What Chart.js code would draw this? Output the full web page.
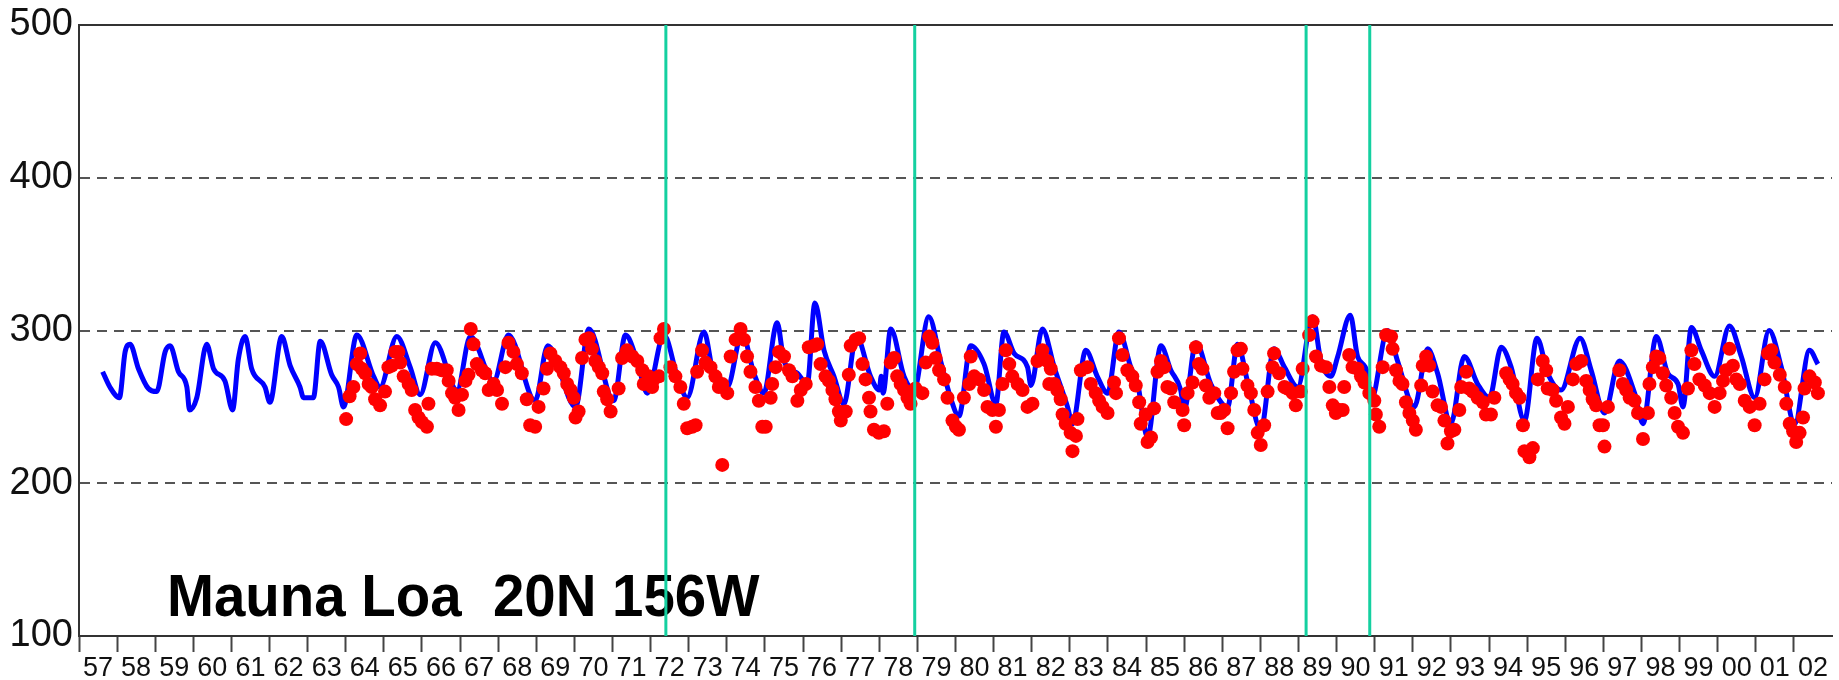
<!DOCTYPE html>
<html>
<head>
<meta charset="utf-8">
<title>Mauna Loa ozone</title>
<script src="https://cdn.jsdelivr.net/npm/chart.js@4.4.1/dist/chart.umd.min.js"></script>
<style>
  html, body { margin: 0; padding: 0; background: #fff; }
</style>
</head>
<body>
<canvas id="ozone-chart" width="1839" height="680"></canvas>
<script>

// x axis labels, one per year bin (1957 .. 2002)
const yearLabels = ['57', '58', '59', '60', '61', '62', '63', '64', '65', '66', '67', '68', '69', '70', '71', '72',
  '73', '74', '75', '76', '77', '78', '79', '80', '81', '82', '83', '84', '85', '86', '87', '88', '89', '90', '91',
  '92', '93', '94', '95', '96', '97', '98', '99', '00', '01', '02'];

// blue curve (decimal year, value)
const blueYears = [1957.62, 1957.81, 1958.06, 1958.21, 1958.34, 1958.56, 1958.82, 1959.04, 1959.26, 1959.39, 1959.61,
  1959.83, 1959.90, 1960.09, 1960.35, 1960.53, 1960.83, 1961.03, 1961.18, 1961.36, 1961.53, 1961.88, 1962.01, 1962.32,
  1962.54, 1962.80, 1962.89, 1963.15, 1963.33, 1963.63, 1963.81, 1963.94, 1964.29, 1964.73, 1964.90, 1965.34, 1965.69,
  1965.95, 1966.35, 1966.92, 1967.27, 1967.88, 1968.27, 1968.97, 1969.30, 1970.03, 1970.38, 1971.03, 1971.34, 1971.65,
  1971.91, 1972.35, 1972.70, 1972.96, 1973.40, 1973.66, 1974.01, 1974.40, 1974.71, 1974.97, 1975.32, 1975.50, 1975.85,
  1976.11, 1976.31, 1976.55, 1976.81, 1977.07, 1977.40, 1977.77, 1978.00, 1978.05, 1978.10, 1978.30, 1978.65, 1978.91,
  1979.30, 1979.61, 1979.87, 1980.09, 1980.40, 1980.75, 1981.06, 1981.27, 1981.54, 1981.89, 1981.98, 1982.28, 1982.59,
  1982.94, 1983.07, 1983.42, 1983.72, 1983.99, 1984.29, 1984.60, 1984.78, 1985.04, 1985.39, 1985.65, 1985.91, 1986.00,
  1986.31, 1986.70, 1987.14, 1987.40, 1987.66, 1988.01, 1988.36, 1988.63, 1988.98, 1989.37, 1989.59, 1989.85, 1990.03,
  1990.36, 1990.55, 1990.81, 1990.90, 1991.34, 1991.60, 1992.04, 1992.39, 1992.65, 1993.00, 1993.35, 1993.70, 1994.01,
  1994.32, 1994.58, 1994.93, 1995.26, 1995.54, 1995.89, 1996.39, 1996.68, 1997.03, 1997.42, 1997.82, 1998.04, 1998.39,
  1998.69, 1998.96, 1999.09, 1999.31, 1999.57, 1999.92, 2000.31, 2000.62, 2000.97, 2001.35, 2001.67, 2002.02, 2002.41,
  2002.63];
const blueValues = [273, 263, 256, 286, 291, 275, 262, 260, 286, 290, 273,
  263, 248, 256, 291, 275, 267, 248, 281, 296, 275, 263, 253, 296,
  277, 263, 256, 256, 293, 271, 263, 250, 297, 270, 263, 296, 276,
  258, 292, 261, 296, 267, 297, 254, 290, 250, 301, 254, 297, 280,
  259, 297, 270, 256, 299, 270, 263, 298, 272, 259, 305, 280, 272,
  265, 318, 287, 270, 252, 296, 270, 261, 270, 259, 301, 270, 261,
  309, 280, 256, 244, 290, 278, 252, 299, 285, 276, 264, 301, 276,
  250, 239, 287, 270, 259, 299, 276, 265, 230, 290, 274, 261, 248,
  292, 265, 250, 291, 267, 235, 288, 276, 263, 309, 280, 270, 283,
  310, 283, 272, 254, 300, 280, 250, 288, 272, 239, 283, 265, 256,
  289, 276, 241, 295, 272, 261, 295, 274, 246, 280, 259, 239, 296,
  272, 265, 250, 302, 287, 270, 303, 283, 256, 300, 276, 239, 287,
  278];

// red observations (decimal year, value)
const redYears = [1964.01, 1964.10, 1964.20, 1964.29, 1964.38, 1964.42, 1964.51, 1964.60, 1964.68, 1964.77, 1964.90,
  1965.03, 1965.12, 1965.21, 1965.30, 1965.38, 1965.43, 1965.52, 1965.65, 1965.73, 1965.82, 1965.91, 1966.00, 1966.13,
  1966.17, 1966.26, 1966.39, 1966.52, 1966.65, 1966.70, 1966.79, 1966.87, 1966.96, 1967.05, 1967.14, 1967.22, 1967.28,
  1967.35, 1967.44, 1967.57, 1967.66, 1967.75, 1967.88, 1967.97, 1968.10, 1968.19, 1968.27, 1968.40, 1968.49, 1968.62,
  1968.75, 1968.84, 1968.97, 1969.06, 1969.19, 1969.28,
  1969.37, 1969.50, 1969.63, 1969.72, 1969.81, 1969.90, 1969.98, 1970.03, 1970.11, 1970.20, 1970.29, 1970.38, 1970.46,
  1970.55, 1970.64, 1970.73, 1970.77, 1970.86, 1970.95, 1971.16, 1971.25, 1971.38, 1971.52, 1971.65, 1971.78, 1971.82,
  1971.95, 1972.04, 1972.08, 1972.22, 1972.26, 1972.35, 1972.52, 1972.65, 1972.78, 1972.87, 1972.96, 1973.09, 1973.18,
  1973.22, 1973.35, 1973.44, 1973.57, 1973.70, 1973.79, 1973.88, 1973.88, 1974.01, 1974.10, 1974.23, 1974.36, 1974.45,
  1974.53, 1974.62, 1974.75, 1974.84, 1974.93, 1975.02, 1975.15, 1975.19, 1975.28, 1975.37, 1975.50, 1975.63, 1975.72,
  1975.85, 1975.94, 1976.07, 1976.15, 1976.29, 1976.37, 1976.46, 1976.59, 1976.68, 1976.77, 1976.85, 1976.94, 1976.99,
  1977.12, 1977.20, 1977.25, 1977.38, 1977.47, 1977.56, 1977.64, 1977.73, 1977.77, 1977.86, 1977.99, 1978.12, 1978.21,
  1978.30, 1978.39, 1978.47, 1978.56, 1978.65, 1978.74, 1978.82, 1978.95, 1979.13, 1979.22, 1979.31, 1979.39, 1979.48,
  1979.57, 1979.70, 1979.79, 1979.92, 1980.01, 1980.09, 1980.22, 1980.36, 1980.40, 1980.49, 1980.62, 1980.75, 1980.84,
  1980.97, 1981.06, 1981.14, 1981.23, 1981.32, 1981.41, 1981.49, 1981.63, 1981.76, 1981.89, 1982.02, 1982.15, 1982.28,
  1982.41, 1982.46,
  1982.50, 1982.59, 1982.67, 1982.76, 1982.81, 1982.89, 1983.02, 1983.07, 1983.16, 1983.20, 1983.29, 1983.46, 1983.55,
  1983.68, 1983.77, 1983.86, 1983.99, 1984.16, 1984.21, 1984.29, 1984.38, 1984.51, 1984.64, 1984.73, 1984.82, 1984.86,
  1984.99, 1985.04, 1985.13, 1985.21, 1985.30, 1985.39, 1985.48, 1985.56, 1985.65, 1985.74, 1985.96, 1986.00, 1986.09,
  1986.22, 1986.31, 1986.39, 1986.48, 1986.57, 1986.66, 1986.79, 1986.88, 1986.96, 1987.05, 1987.14, 1987.23, 1987.31,
  1987.40, 1987.49, 1987.53, 1987.66, 1987.75, 1987.84, 1987.93, 1988.01, 1988.10, 1988.19, 1988.32, 1988.36, 1988.49,
  1988.63, 1988.71, 1988.85, 1988.93, 1989.06, 1989.11, 1989.28, 1989.37, 1989.46, 1989.59, 1989.72, 1989.81, 1989.90,
  1989.98, 1990.07, 1990.16, 1990.20, 1990.33, 1990.42, 1990.55, 1990.64, 1990.73, 1990.86, 1990.99, 1991.03, 1991.12,
  1991.21, 1991.30, 1991.43, 1991.47, 1991.56, 1991.65, 1991.73, 1991.82, 1991.91, 1992.00, 1992.08, 1992.22, 1992.26,
  1992.35, 1992.43, 1992.52, 1992.65, 1992.74, 1992.83, 1992.91,
  1993.00, 1993.09, 1993.22, 1993.27, 1993.40, 1993.48, 1993.57, 1993.70, 1993.84, 1993.92, 1994.05, 1994.14, 1994.45,
  1994.54, 1994.62, 1994.71, 1994.80, 1994.89, 1994.93, 1995.06, 1995.15, 1995.28, 1995.41, 1995.50, 1995.54, 1995.67,
  1995.76, 1995.89, 1995.98, 1996.07, 1996.20, 1996.29, 1996.42, 1996.55, 1996.64, 1996.72, 1996.81, 1996.90, 1996.99,
  1997.03, 1997.12, 1997.42, 1997.51, 1997.60, 1997.69, 1997.82, 1997.91, 1998.04, 1998.17, 1998.21, 1998.30, 1998.39,
  1998.47, 1998.56, 1998.65, 1998.78, 1998.87, 1998.96, 1999.09, 1999.22, 1999.31, 1999.39, 1999.52, 1999.66, 1999.79,
  1999.92, 2000.05, 2000.14, 2000.22, 2000.31, 2000.40, 2000.49, 2000.58, 2000.71, 2000.84, 2000.97, 2001.10, 2001.23,
  2001.32, 2001.41, 2001.49, 2001.63, 2001.76, 2001.80, 2001.89, 2001.98, 2002.06, 2002.15, 2002.24, 2002.28, 2002.41,
  2002.55, 2002.63];
const redValues = [242, 257, 263, 278, 285, 275, 272, 265, 263, 255, 251,
  260, 276, 277, 286, 286, 279, 270, 265, 261, 248, 243, 240, 237,
  252, 275, 275, 274, 274, 267, 259, 256, 248, 258, 267, 271, 301,
  291, 278, 274, 272, 261, 265, 261, 252, 276, 292, 286, 278, 272,
  255, 238, 237, 250, 262, 275,
  285, 280, 276, 272, 265, 261, 256, 243, 247, 282, 294, 295, 288,
  280, 276, 272, 260, 255, 247, 262, 282, 287, 283, 280, 274, 265,
  270, 263, 268, 270, 295, 301, 276, 270, 263, 252, 236, 237, 238,
  273, 287, 279, 276, 270, 263, 212, 265, 259, 283, 294, 301, 294,
  283, 273, 263, 254, 237, 237, 256, 265, 276, 286, 283, 274, 270,
  254, 261, 265, 289, 290, 291, 278, 270, 267, 261, 255, 247, 241,
  247, 271, 290, 294, 295, 278, 268, 256, 247, 235, 233, 234, 252,
  279, 282, 270, 265, 261, 256, 252, 262, 259, 279, 296, 292, 282,
  274, 268, 256, 241, 237, 235, 256, 265, 283, 270, 268, 261, 250,
  248, 237, 248, 265, 287, 278, 270, 265, 261, 250, 252, 280, 287,
  280, 265,
  275, 265, 261, 255, 245, 239, 233, 221, 231, 242, 274, 276, 265,
  259, 254, 250, 246, 266, 259, 295, 284, 274, 270, 264, 253, 239,
  245, 227, 230, 249, 273, 280, 276, 263, 262, 253, 248, 238, 259,
  266, 289, 278, 275, 264, 256, 259, 246, 246, 248, 236, 259, 273,
  287, 288, 275, 264, 259, 248, 233, 225, 238, 260, 276, 285, 272,
  263, 262, 259, 251, 260, 275, 297, 306, 283, 277, 276, 263, 251,
  246, 248, 248, 263, 284, 276, 275, 270, 266, 259, 254, 245, 237,
  276, 297, 296, 288, 274, 267, 265, 253, 246, 241, 235, 264, 277,
  283, 277, 260, 251, 250, 241, 226,
  234, 235, 248, 263, 273, 262, 260, 256, 253, 245, 245, 256, 272,
  268, 265, 259, 256, 238, 221, 217, 223, 268, 280, 274, 262, 261,
  254, 243, 239, 250, 268, 278, 280, 267, 261, 255, 251, 238, 238,
  224, 250, 274, 265, 261, 256, 254, 246, 229, 246, 265, 276, 283,
  282, 272, 264, 256, 246, 237, 233, 262, 287, 278, 268, 264, 259,
  250, 259, 267, 274, 288, 277, 268, 265, 254, 250, 238, 252, 268,
  285, 287, 279, 271, 263, 252, 239, 234, 227, 233, 243, 262, 270,
  266, 259];

// green markers (decimal year)
const eventYears = [1972.4, 1978.93, 1989.2, 1990.87];

function toPoints(xs, ys) {
  return xs.map((x, i) => ({ x: x, y: ys[i] }));
}

// station name written inside the plot, under the green markers
const stationLabel = {
  id: 'stationLabel',
  beforeDatasetsDraw(chart) {
    const { ctx, chartArea } = chart;
    ctx.save();
    ctx.font = 'bold 60px "Liberation Sans", Arial, sans-serif';
    ctx.fillStyle = '#000';
    ctx.textBaseline = 'alphabetic';
    ctx.translate(chartArea.left + 88, chartArea.bottom - 20);
    ctx.scale(0.94, 1);
    ctx.fillText('Mauna Loa  20N 156W', 0, 0);
    ctx.restore();
  }
};

const datasets = [];
eventYears.forEach(function (yr) {
  datasets.push({
    type: 'line',
    data: [{ x: yr, y: 100 }, { x: yr, y: 500 }],
    borderColor: '#14d0a0',
    borderWidth: 3,
    pointRadius: 0,
    fill: false,
    order: 1,
    xAxisID: 'x',
    yAxisID: 'y'
  });
});
datasets.push({
  type: 'scatter',
  data: toPoints(redYears, redValues),
  backgroundColor: '#ff0000',
  borderWidth: 0,
  pointRadius: 7,
  order: 2,
  xAxisID: 'x',
  yAxisID: 'y'
});
datasets.push({
  type: 'line',
  data: toPoints(blueYears, blueValues),
  borderColor: '#0000ff',
  borderWidth: 5,
  borderJoinStyle: 'round',
  pointRadius: 0,
  cubicInterpolationMode: 'monotone',
  fill: false,
  order: 3,
  xAxisID: 'x',
  yAxisID: 'y'
});

const axisFont = '"Liberation Sans", Arial, sans-serif';

new Chart(document.getElementById('ozone-chart'), {
  type: 'scatter',
  data: { datasets: datasets },
  options: {
    responsive: false,
    animation: false,
    layout: { padding: { right: 7, top: 0, left: 0, bottom: 0 } },
    plugins: {
      legend: { display: false },
      tooltip: { enabled: false }
    },
    scales: {
      x: {
        type: 'linear',
        position: 'bottom',
        min: 1957,
        max: 2003,
        afterFit: function (axis) { axis.height = 44; },
        ticks: {
          stepSize: 1,
          autoSkip: false,
          maxRotation: 0,
          minRotation: 0,
          labelOffset: 19,
          padding: 0,
          color: '#111',
          font: { family: axisFont, size: 27 },
          callback: function (value) { return yearLabels[value - 1957] || ''; }
        },
        grid: {
          drawOnChartArea: false,
          tickLength: 16,
          tickWidth: 2,
          tickColor: function (c) { return c.index === yearLabels.length ? 'rgba(0,0,0,0)' : '#444'; }
        },
        border: { color: '#333', width: 2 }
      },
      xTop: {
        type: 'linear',
        position: 'top',
        min: 1957,
        max: 2003,
        afterFit: function (axis) { axis.height = 24; },
        ticks: { display: false },
        grid: { display: false },
        border: { color: '#333', width: 2 }
      },
      y: {
        type: 'linear',
        min: 100,
        max: 500,
        afterFit: function (axis) { axis.width = 79; },
        ticks: {
          stepSize: 100,
          padding: 6,
          color: '#111',
          font: { family: axisFont, size: 38, lineHeight: 1 }
        },
        grid: { color: '#555', lineWidth: 2, drawTicks: false },
        border: { color: '#333', width: 2, dash: [10, 7] }
      }
    }
  },
  plugins: [stationLabel]
});
</script>
</body>
</html>
